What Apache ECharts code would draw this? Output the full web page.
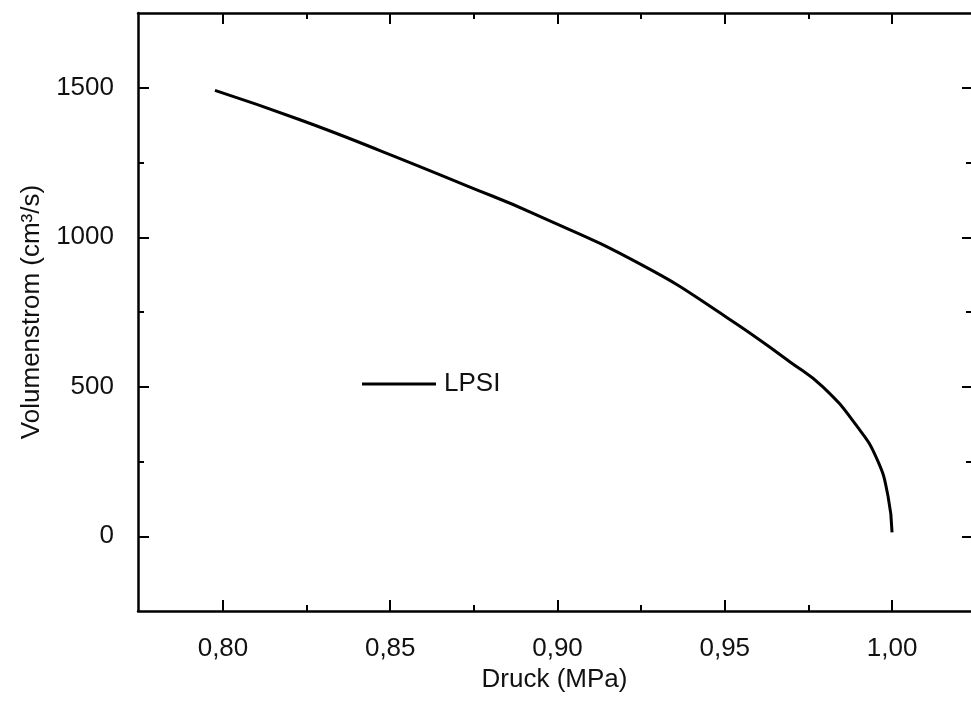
<!DOCTYPE html>
<html>
<head>
<meta charset="utf-8">
<script src="https://cdn.jsdelivr.net/npm/echarts@6/dist/echarts.min.js"></script>
<style>
html,body{margin:0;padding:0;background:#fff;}
#chart{width:971px;height:704px;}
</style>
</head>
<body>
<div id="chart"></div>
<script>
// Data
const pressure = [0.7976, 0.8230, 0.8469, 0.8729, 0.8927, 0.9256, 0.9506, 0.9695, 0.9794, 0.9895, 0.9955, 0.9988, 1.0000];
const flow     = [1491,   1393,   1290,   1172,   1080,   905,    732,    583,    499,    368,    258,    134,    13];
const seriesName = 'LPSI';
const xMajorTicks = [0.80, 0.85, 0.90, 0.95, 1.00];
const xMinorTicks = [0.825, 0.875, 0.925, 0.975];
const yMajorTicks = [0, 500, 1000, 1500];
const yMinorTicks = [250, 750, 1250];
const xAxisTitle = 'Druck (MPa)';
const yAxisTitle = 'Volumenstrom (cm³/s)';

const FONT = 'Liberation Sans, Arial, Helvetica, sans-serif';
const xMin = 0.7746, xMax = 1.0236, yMin = -250, yMax = 1750;
const lineStyle = {color: '#000', width: 2.5};

function xAxisDef(pos, ticks, len, showLine, showLabel, withName) {
  const a = {
    type: 'value', position: pos, min: xMin, max: xMax,
    splitLine: {show: false},
    axisLine: {show: showLine, onZero: false, lineStyle: lineStyle},
    axisTick: {show: true, inside: true, length: len, customValues: ticks, lineStyle: {color: '#000', width: 2}},
    axisLabel: {show: showLabel, customValues: ticks, margin: 25, color: '#111', fontFamily: FONT, fontSize: 26,
      formatter: v => v.toFixed(2).replace('.', ',')}
  };
  if (withName) {
    a.name = xAxisTitle; a.nameLocation = 'middle'; a.nameGap = 52;
    a.nameTextStyle = {color: '#111', fontFamily: FONT, fontSize: 26};
  }
  return a;
}
function yAxisDef(pos, ticks, len, showLine, showLabel, withName) {
  const a = {
    type: 'value', position: pos, min: yMin, max: yMax,
    splitLine: {show: false},
    axisLine: {show: showLine, onZero: false, lineStyle: lineStyle},
    axisTick: {show: true, inside: true, length: len, customValues: ticks, lineStyle: {color: '#000', width: 2}},
    axisLabel: {show: showLabel, customValues: ticks, margin: 24, color: '#111', fontFamily: FONT, fontSize: 26,
      formatter: v => String(v)}
  };
  if (withName) {
    a.name = yAxisTitle; a.nameLocation = 'middle'; a.nameGap = 88;
    a.nameTextStyle = {color: '#111', fontFamily: FONT, fontSize: 26};
  }
  return a;
}

const chart = echarts.init(document.getElementById('chart'), null, {renderer: 'canvas'});
chart.setOption({
  animation: false,
  backgroundColor: '#fff',
  grid: {left: 138, right: 0, top: 13, bottom: 93},
  legend: {
    left: 357, top: 366, itemWidth: 74, itemHeight: 3, itemGap: 0, icon: 'rect',
    textStyle: {color: '#111', fontFamily: FONT, fontSize: 26, padding: [0, 0, 0, 3]},
    data: [seriesName]
  },
  xAxis: [
    xAxisDef('bottom', xMajorTicks, 11, true, true, true),
    xAxisDef('bottom', xMinorTicks, 6, false, false, false),
    xAxisDef('top', xMajorTicks, 11, true, false, false),
    xAxisDef('top', xMinorTicks, 6, false, false, false)
  ],
  yAxis: [
    yAxisDef('left', yMajorTicks, 11, true, true, true),
    yAxisDef('left', yMinorTicks, 6, false, false, false),
    yAxisDef('right', yMajorTicks, 9, false, false, false),
    yAxisDef('right', yMinorTicks, 5, false, false, false)
  ],
  series: [{
    name: seriesName, type: 'line', xAxisIndex: 0, yAxisIndex: 0,
    data: pressure.map((p, i) => [p, flow[i]]),
    symbol: 'none', smooth: 0.5,
    lineStyle: {color: '#000', width: 3},
    itemStyle: {color: '#000'}
  }]
});
</script>
</body>
</html>
